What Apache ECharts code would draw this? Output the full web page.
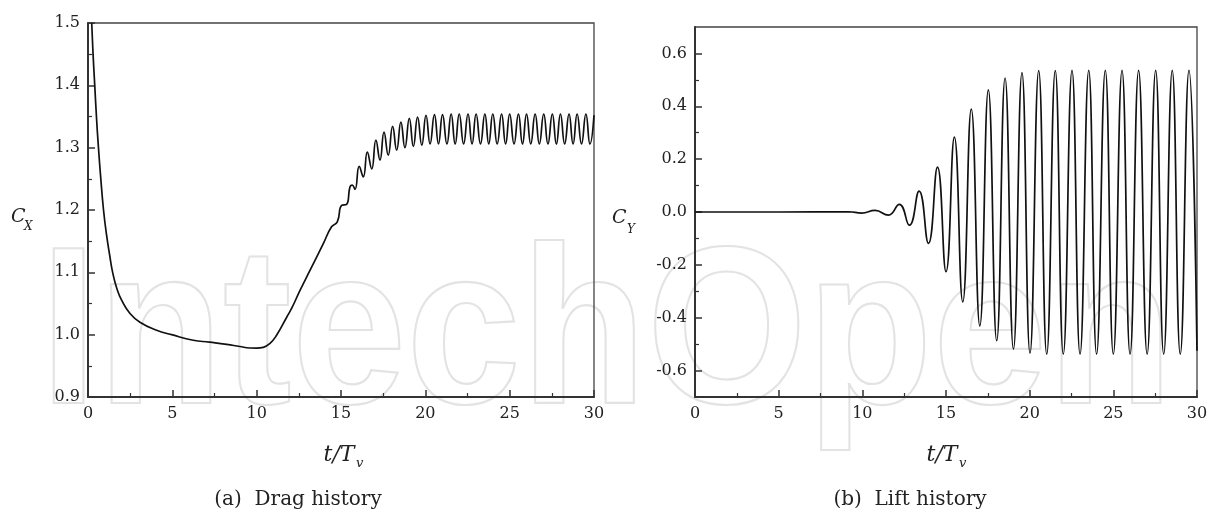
<!DOCTYPE html>
<html>
<head>
<meta charset="utf-8">
<script src="https://cdn.jsdelivr.net/npm/echarts@6/dist/echarts.min.js"></script>
<style>html,body{margin:0;padding:0;background:#fff;}#chart{width:1211px;height:514px;}</style>
</head>
<body>
<div id="chart"></div>
<script>
// ---- Data ----
// (a) Drag history: time t/Tv and drag coefficient Cx (extrema and shape points)
const dragT = [0.22,0.30,0.40,0.50,0.62,0.76,0.92,1.10,1.30,1.46,1.70,2.00,2.49,3.08,4.07,4.96,6.24,7.20,8.22,9.00,9.60,10.00,10.39,10.79,11.18,11.78,12.07,12.57,13.16,13.95,14.44,14.78,15.04,15.33,15.53,15.67,15.83,16.08,16.32,16.56,16.82,17.07,17.31,17.55,17.80,18.06,18.30,18.55,18.79,19.05,19.29,19.54,19.79,20.04,20.28,20.54,20.78,21.02,21.28,21.53,21.77,22.01,22.27,22.53,22.77,23.01,23.27,23.53,23.76,24.00,24.26,24.52,24.76,25.00,25.26,25.52,25.76,26.00,26.25,26.51,26.76,27.02,27.27,27.53,27.77,28.01,28.26,28.52,28.76,29.00,29.26,29.52,29.76,30.00];
const dragCx = [1.500,1.450,1.400,1.350,1.300,1.250,1.200,1.160,1.125,1.100,1.075,1.055,1.034,1.020,1.007,1.000,0.991,0.988,0.9845,0.981,0.9786,0.9785,0.9797,0.986,0.999,1.028,1.042,1.071,1.103,1.146,1.173,1.181,1.2075,1.209,1.237,1.240,1.233,1.270,1.253,1.293,1.266,1.312,1.280,1.325,1.288,1.334,1.296,1.341,1.300,1.347,1.302,1.349,1.304,1.352,1.306,1.353,1.306,1.353,1.306,1.354,1.306,1.354,1.306,1.354,1.306,1.354,1.306,1.354,1.306,1.354,1.306,1.354,1.306,1.354,1.306,1.354,1.306,1.354,1.306,1.354,1.306,1.354,1.306,1.354,1.306,1.354,1.306,1.354,1.306,1.354,1.306,1.354,1.306,1.352];
// (b) Lift history: time t/Tv and lift coefficient Cy (extrema)
const liftT = [0,5,9.2,9.96,10.76,11.56,12.21,12.81,13.39,13.95,14.49,15.00,15.50,16.00,16.51,17.02,17.53,18.03,18.53,19.03,19.54,20.02,20.54,21.02,21.53,22.01,22.53,23.01,23.53,24.00,24.52,25.00,25.52,26.00,26.51,27.02,27.53,28.01,28.52,29.00,29.52,30.00];
const liftCy = [0,0,0.001,-0.004,0.006,-0.012,0.029,-0.050,0.079,-0.119,0.170,-0.226,0.283,-0.340,0.389,-0.431,0.462,-0.487,0.507,-0.519,0.527,-0.534,0.535,-0.538,0.535,-0.538,0.536,-0.538,0.536,-0.538,0.536,-0.538,0.536,-0.538,0.536,-0.538,0.536,-0.538,0.536,-0.538,0.536,-0.525];
// Tick values
const cyMajor = [-0.6,-0.4,-0.2,0.0,0.2,0.4,0.6];
const cyMinor = [-0.5,-0.3,-0.1,0.1,0.3,0.5];
const captions = ['(a)  Drag history','(b)  Lift history'];
const watermark = 'IntechOpen';

const dragData = dragT.map((t,i)=>[t,dragCx[i]]);
const liftData = liftT.map((t,i)=>[t,liftCy[i]]);

const SERIF = '"DejaVu Serif", serif';
const AX = '#333';
const TXT = '#222';

function xAxisCfg(gridIndex){
  return {
    type:'value', gridIndex, min:0, max:30, interval:5,
    axisLine:{show:true, onZero:false, lineStyle:{color:AX,width:2}},
    axisTick:{show:true, inside:true, length:7, lineStyle:{color:AX,width:1.5}},
    minorTick:{show:true, splitNumber:2, length:4, lineStyle:{color:AX,width:1.2}},
    splitLine:{show:false}, minorSplitLine:{show:false},
    axisLabel:{color:TXT, fontFamily:SERIF, fontSize:16, margin:9}
  };
}

const option = {
  animation:false,
  backgroundColor:'#fff',
  grid:[
    {left:88, top:23, width:506, height:374, show:true, borderColor:'#444', borderWidth:1.3, backgroundColor:'transparent'},
    {left:695, top:27, width:502, height:370, show:true, borderColor:'#444', borderWidth:1.3, backgroundColor:'transparent'}
  ],
  xAxis:[xAxisCfg(0), xAxisCfg(1)],
  yAxis:[
    {
      type:'value', gridIndex:0, min:0.9, max:1.5, interval:0.1,
      axisLine:{show:true, onZero:false, lineStyle:{color:AX,width:2}},
      axisTick:{show:true, inside:true, length:7, lineStyle:{color:AX,width:1.5}},
      minorTick:{show:true, splitNumber:2, length:4, lineStyle:{color:AX,width:1.2}},
      splitLine:{show:false},
      axisLabel:{color:TXT, fontFamily:SERIF, fontSize:16, margin:8, formatter:v=>v.toFixed(1)}
    },
    {
      type:'value', gridIndex:1, min:-0.7, max:0.7,
      axisLine:{show:true, onZero:false, lineStyle:{color:AX,width:2}},
      axisTick:{show:true, inside:true, length:7, customValues:cyMajor, lineStyle:{color:AX,width:1.5}},
      splitLine:{show:false},
      axisLabel:{color:TXT, fontFamily:SERIF, fontSize:16, margin:8, customValues:cyMajor, formatter:v=>(Math.abs(v)<1e-9?0:v).toFixed(1)}
    },
    {
      type:'value', gridIndex:1, min:-0.7, max:0.7, position:'left', offset:0,
      axisLine:{show:false},
      axisTick:{show:true, inside:true, length:4, customValues:cyMinor, lineStyle:{color:AX,width:1.2}},
      splitLine:{show:false},
      axisLabel:{show:false}
    }
  ],
  series:[
    {type:'line', xAxisIndex:0, yAxisIndex:0, data:dragData, smooth:0.5, showSymbol:false, clip:true,
     lineStyle:{color:'#111', width:1.7}, z:5},
    {type:'line', xAxisIndex:1, yAxisIndex:1, data:liftData, smooth:0.5, showSymbol:false, clip:true,
     lineStyle:{color:'#111', width:1.7}, z:5}
  ],
  graphic:[
    {type:'text', z:-10, silent:true, x:40, y:341, scaleY:1.09,
     style:{text:watermark, x:0, y:0, font:'bold 206px "Liberation Sans"', fill:'rgba(255,255,255,0)', stroke:'#e3e3e3', lineWidth:2, verticalAlign:'middle', align:'left'}},
    {type:'text', style:{text:'C', x:11, y:217, font:'italic 19px "DejaVu Serif"', fill:TXT, verticalAlign:'middle', align:'left'}},
    {type:'text', style:{text:'X', x:24, y:227, font:'italic 12px "DejaVu Serif"', fill:TXT, verticalAlign:'middle', align:'left'}},
    {type:'text', style:{text:'C', x:612, y:218, font:'italic 19px "DejaVu Serif"', fill:TXT, verticalAlign:'middle', align:'left'}},
    {type:'text', style:{text:'Y', x:627, y:230, font:'italic 12px "DejaVu Serif"', fill:TXT, verticalAlign:'middle', align:'left'}},
    {type:'text', style:{text:'t/T', x:339, y:455, font:'italic 22px "DejaVu Serif"', fill:TXT, verticalAlign:'middle', align:'center'}},
    {type:'text', style:{text:'v', x:356, y:464, font:'italic 13px "DejaVu Serif"', fill:TXT, verticalAlign:'middle', align:'left'}},
    {type:'text', style:{text:'t/T', x:942, y:455, font:'italic 22px "DejaVu Serif"', fill:TXT, verticalAlign:'middle', align:'center'}},
    {type:'text', style:{text:'v', x:959, y:464, font:'italic 13px "DejaVu Serif"', fill:TXT, verticalAlign:'middle', align:'left'}},
    {type:'text', style:{text:captions[0], x:298, y:500, font:'20px "DejaVu Serif"', fill:TXT, verticalAlign:'middle', align:'center'}},
    {type:'text', style:{text:captions[1], x:910, y:500, font:'20px "DejaVu Serif"', fill:TXT, verticalAlign:'middle', align:'center'}}
  ]
};

const chart = echarts.init(document.getElementById('chart'), null, {renderer:'canvas'});
chart.setOption(option);
</script>
</body>
</html>
